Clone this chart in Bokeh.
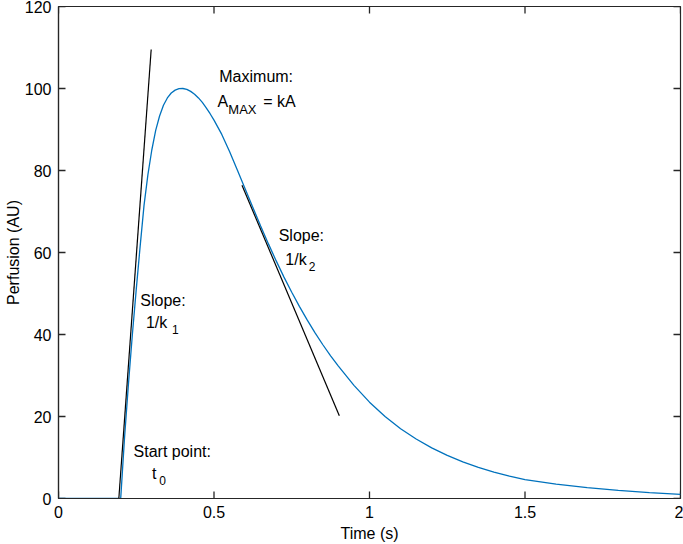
from bokeh.plotting import figure
from bokeh.models import FixedTicker, Range1d, ColumnDataSource
from bokeh.core.properties import value
from bokeh.embed import file_html
from bokeh.resources import INLINE

# ---- data ----
time_s = [0, 0.1, 0.2, 0.205, 0.2125, 0.225, 0.2375, 0.25, 0.2625, 0.275, 0.2875,
          0.3, 0.3125, 0.325, 0.3375, 0.35, 0.3625, 0.375, 0.3875, 0.4,
          0.4125, 0.425, 0.4375, 0.45, 0.4625, 0.475, 0.4875, 0.5, 0.525, 0.55,
          0.575, 0.6, 0.625, 0.65, 0.675, 0.7, 0.725, 0.75, 0.775, 0.8, 0.825,
          0.85, 0.875, 0.9, 0.95, 1.0, 1.05, 1.1, 1.15, 1.2, 1.25, 1.3, 1.35,
          1.4, 1.45, 1.5, 1.6, 1.7, 1.8, 1.9, 2.0]
perfusion = [0, 0, 0, 6, 15, 28, 40, 51, 61.5, 71.5, 79,
             85, 89.8, 93.3, 95.9, 97.7, 98.9, 99.6, 99.95, 100,
             99.8, 99.3, 98.6, 97.7, 96.6, 95.3, 93.85, 92.3, 88.8, 84.65,
             80.15, 75.55, 70.95, 66.45, 62.1, 57.95, 54.0, 50.3, 46.8, 43.5, 40.4,
             37.5, 34.8, 32.3, 27.6, 23.5, 20.0, 17.0, 14.5, 12.35, 10.5, 8.95, 7.6,
             6.45, 5.45, 4.6, 3.5, 2.65, 2.0, 1.45, 1.0]

tangent1_x = [0.194, 0.298]
tangent1_y = [0, 109.5]
tangent2_x = [0.59, 0.903]
tangent2_y = [76.4, 20.2]

x_ticks = [0, 0.5, 1, 1.5, 2]
x_tick_labels = ["0", "0.5", "1", "1.5", "2"]
y_ticks = [0, 20, 40, 60, 80, 100, 120]
y_tick_labels = ["0", "20", "40", "60", "80", "100", "120"]

main_text = ["Maximum:", "A", "= kA", "Slope:", "1/k", "Slope:", "1/k", "Start point:", "t"]
main_x = [0.517, 0.5116, 0.6586, 0.708, 0.7294, 0.2629, 0.2812, 0.2413, 0.3005]
main_y = [102.9, 96.8, 96.8, 64.2, 58.4, 48.4, 42.9, 11.4, 6.0]
sub_text = ["2", "1", "0"]
sub_x = [0.8044, 0.3649, 0.324]
sub_y = [56.5, 41.1, 4.5]
max_text = ["MAX"]
max_x = [0.546]
max_y = [94.8]

FONT = "Liberation Sans"
AX = "#262626"
X0, X1, Y0, Y1 = 0, 2, 0, 120
W, H = 683, 544
ML, MR, MT, MB = 58, 3, 6, 46
TICK_PX = 7

p = figure(width=W, height=H, output_backend="svg", toolbar_location=None,
           x_range=Range1d(X0, X1), y_range=Range1d(Y0, Y1),
           min_border_left=ML, min_border_right=MR, min_border_top=MT, min_border_bottom=MB)
p.xgrid.visible = False
p.ygrid.visible = False
p.background_fill_color = "white"
p.border_fill_color = "white"
p.outline_line_color = AX
p.outline_line_width = 1.2
p.outline_line_alpha = 1

def style_axis(ax, ticks, labels):
    ax.ticker = FixedTicker(ticks=ticks)
    ax.major_label_overrides = {t: l for t, l in zip(ticks, labels)}
    ax.major_tick_in = 0
    ax.major_tick_out = 0
    ax.minor_tick_in = 0
    ax.minor_tick_out = 0
    ax.axis_line_color = AX
    ax.axis_line_width = 1.2
    ax.major_label_text_font = FONT
    ax.major_label_text_font_size = "16px"
    ax.major_label_text_color = "black"
    ax.axis_label_text_font = FONT
    ax.axis_label_text_font_style = "normal"
    ax.axis_label_text_color = "black"
    ax.axis_label_text_font_size = "16px"

style_axis(p.xaxis[0], x_ticks, x_tick_labels)
style_axis(p.yaxis[0], y_ticks, y_tick_labels)
p.xaxis[0].axis_label = "Time (s)"
p.xaxis[0].major_label_standoff = 7
p.xaxis[0].axis_label_standoff = 4
p.yaxis[0].axis_label = "Perfusion (AU)"
p.yaxis[0].major_label_standoff = 7
p.yaxis[0].axis_label_standoff = 0

# inward tick marks on all four sides of the box (tick length converted from pixels)
dx = TICK_PX * (X1 - X0) / (W - ML - MR)
dy = TICK_PX * (Y1 - Y0) / (H - MT - MB)
tick_style = dict(line_color=AX, line_width=1.3)
p.segment(x0=x_ticks, y0=[Y0] * len(x_ticks), x1=x_ticks, y1=[Y0 + dy] * len(x_ticks), **tick_style)
p.segment(x0=x_ticks, y0=[Y1] * len(x_ticks), x1=x_ticks, y1=[Y1 - dy] * len(x_ticks), **tick_style)
p.segment(x0=[X0] * len(y_ticks), y0=y_ticks, x1=[X0 + dx] * len(y_ticks), y1=y_ticks, **tick_style)
p.segment(x0=[X1] * len(y_ticks), y0=y_ticks, x1=[X1 - dx] * len(y_ticks), y1=y_ticks, **tick_style)

p.line(time_s, perfusion, line_color="#0072BD", line_width=1.3)
p.line(tangent1_x, tangent1_y, line_color="black", line_width=1.2)
p.line(tangent2_x, tangent2_y, line_color="black", line_width=1.2)

main_src = ColumnDataSource(dict(x=main_x, y=main_y, text=main_text))
sub_src = ColumnDataSource(dict(x=sub_x, y=sub_y, text=sub_text))
max_src = ColumnDataSource(dict(x=max_x, y=max_y, text=max_text))
p.text(x="x", y="y", text="text", source=main_src, text_font=value(FONT),
       text_font_size="16px", text_baseline="alphabetic", text_align="left",
       text_color="black")
p.text(x="x", y="y", text="text", source=sub_src, text_font=value(FONT),
       text_font_size="12px", text_baseline="alphabetic", text_align="left",
       text_color="black")
p.text(x="x", y="y", text="text", source=max_src, text_font=value(FONT),
       text_font_size="13px", text_baseline="alphabetic", text_align="left",
       text_color="black")

open("out.html", "w").write(file_html(p, INLINE))
